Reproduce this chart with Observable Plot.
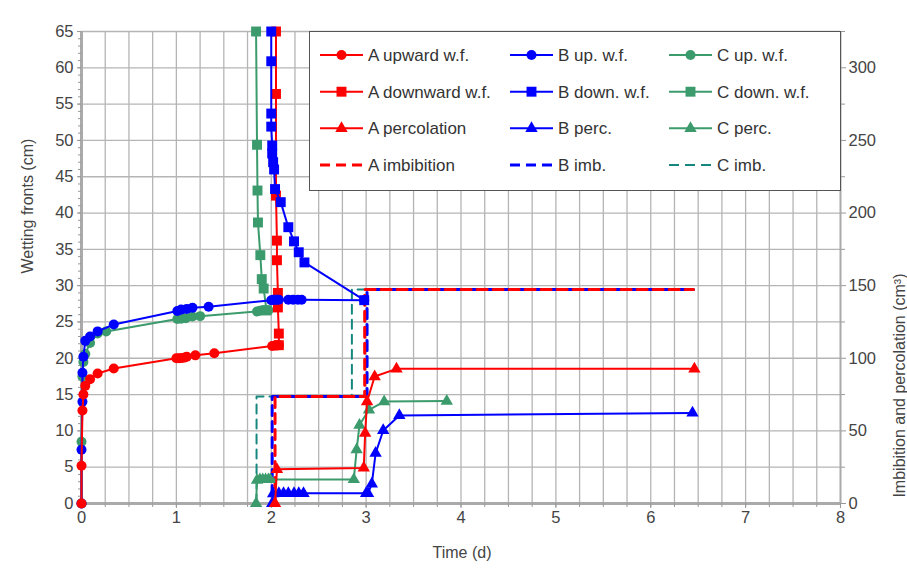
<!DOCTYPE html>
<html><head><meta charset="utf-8">
<script src="https://cdn.jsdelivr.net/npm/d3@7"></script>
<script src="https://cdn.jsdelivr.net/npm/@observablehq/plot@0.6"></script>
<style>
body{margin:0;background:#fff;font-family:"Liberation Sans",Arial,sans-serif;}
#wrap{position:relative;width:907px;height:571px;overflow:hidden;background:#fff;}
#frameline{position:absolute;left:8px;top:5px;width:1000px;height:1000px;border:1px solid #ececec;}
#legend{position:absolute;left:309px;top:31px;width:530px;height:158px;background:#fff;border:1px solid #555;}
#legend svg{display:block;}
</style></head>
<body>
<div id="wrap"><div id="frameline"></div></div>
<script>
// ---- ticks ----
const timeTicks = [0,1,2,3,4,5,6,7,8];
const wfTicks = [0,5,10,15,20,25,30,35,40,45,50,55,60,65];
const volTicks = [0,50,100,150,200,250,300];
const volMinorTicks = [25,75,125,175,225,275,325];
const wfMax = 65, volMax = 325;

// ---- wetting fronts (time d, depth cm) ----
const A_up = [[0,0],[0,5.2],[0.01,12.8],[0.02,15.0],[0.04,16.2],[0.09,17.1],[0.17,17.9],[0.34,18.6],[1.00,20.0],[1.03,20.0],[1.06,20.05],[1.09,20.1],[1.11,20.2],[1.20,20.4],[1.40,20.7],[2.01,21.7],[2.04,21.75],[2.06,21.75],[2.08,21.8]];
const A_down = [[2.08,21.8],[2.08,23.4],[2.07,27.0],[2.07,29.0],[2.06,33.5],[2.06,36.2],[2.05,42.4],[2.05,56.4],[2.05,65]];
const B_up = [[0,0],[0,7.4],[0.01,14.0],[0.01,18.0],[0.02,20.2],[0.04,22.4],[0.09,23.0],[0.17,23.7],[0.34,24.65],[1.01,26.5],[1.05,26.7],[1.11,26.8],[1.17,26.95],[1.34,27.1],[2.0,28.0],[2.02,28.05],[2.04,28.05],[2.06,28.05],[2.08,28.05],[2.18,28.05],[2.23,28.05],[2.28,28.05],[2.32,28.05],[2.98,28.0]];
const B_down = [[2.98,28.0],[2.35,33.2],[2.29,34.6],[2.24,36.1],[2.18,38.05],[2.10,41.5],[2.04,43.3],[2.03,46.0],[2.02,47.0],[2.01,48.2],[2.01,49.3],[2.0,51.9],[2.0,53.7],[2.0,60.9],[2.0,65]];
const C_up = [[0,0],[0,8.5],[0.01,17.5],[0.02,19.5],[0.04,20.6],[0.09,22.1],[0.17,23.4],[0.26,23.7],[1.01,25.4],[1.05,25.45],[1.10,25.5],[1.17,25.75],[1.25,25.8],[1.85,26.45],[1.88,26.55],[1.91,26.6],[1.94,26.6],[1.97,26.6]];
const C_down = [[1.95,26.6],[1.92,29.6],[1.90,30.9],[1.885,34.2],[1.86,38.7],[1.855,43.1],[1.85,49.4],[1.84,65]];

// ---- volumes (time d, cm3) ----
const A_perc = [[2.04,0],[2.06,23.5],[2.975,24.5],[2.99,48.5],[3.01,70.2],[3.09,87.4],[3.32,92.7],[6.46,92.7]];
const B_perc = [[2.01,0],[2.02,6.8],[2.08,7],[2.13,7],[2.18,7],[2.24,7],[2.29,7],[2.34,7],[3.0,7],[3.02,7],[3.06,13.5],[3.10,34.6],[3.18,50.3],[3.35,60.6],[6.44,62.3]];
const C_perc = [[1.84,0],[1.85,16],[1.88,16.5],[1.91,16.5],[1.94,16.5],[1.97,16.5],[1.99,16.5],[2.87,16.5],[2.90,37],[2.93,54],[3.03,64.5],[3.19,70.2],[3.85,70.5]];
const A_imb = [[2.04,0],[2.04,73.7],[2.985,73.7],[2.985,147.3],[6.45,147.3]];
const B_imb = [[2.01,0],[2.01,73.7],[3.01,73.7],[3.01,147.3],[6.45,147.3]];
const C_imb = [[1.845,0],[1.845,73.7],[2.85,73.7],[2.85,147.3],[3.85,147.3]];

const RED = "#ff0000", BLUE = "#0000ff", GREEN = "#3c9b6c", TEAL = "#16877f";
const ratio = volMax / wfMax;

const series = [
  {name:"A upward w.f.", data:A_up, color:RED, symbol:"circle", vol:false},
  {name:"B up. w.f.", data:B_up, color:BLUE, symbol:"circle", vol:false},
  {name:"C up. w.f.", data:C_up, color:GREEN, symbol:"circle", vol:false},
  {name:"A downward w.f.", data:A_down, color:RED, symbol:"square", vol:false},
  {name:"B down. w.f.", data:B_down, color:BLUE, symbol:"square", vol:false},
  {name:"C down. w.f.", data:C_down, color:GREEN, symbol:"square", vol:false},
  {name:"A percolation", data:A_perc, color:RED, symbol:"triangle", vol:true},
  {name:"B perc.", data:B_perc, color:BLUE, symbol:"triangle", vol:true},
  {name:"C perc.", data:C_perc, color:GREEN, symbol:"triangle", vol:true},
  {name:"A imbibition", data:A_imb, color:RED, symbol:null, vol:true, dash:"10,6", width:3},
  {name:"B imb.", data:B_imb, color:BLUE, symbol:null, vol:true, dash:"10,6", width:3, offset:8},
  {name:"C imb.", data:C_imb, color:TEAL, symbol:null, vol:true, dash:"9,6", width:2},
];
const byName = Object.fromEntries(series.map(s => [s.name, s]));
const drawOrder = ["C imb.","B imb.","A imbibition","C perc.","B perc.","A percolation","C down. w.f.","C up. w.f.","A downward w.f.","B up. w.f.","B down. w.f.","A upward w.f."];
const rOf = {circle:5, square:5.6, triangle:4.6};

const dataMarks = [];
for (const n of drawOrder) {
  const s = byName[n];
  const yAcc = s.vol ? (d => d[1] / ratio) : (d => d[1]);
  dataMarks.push(Plot.line(s.data, {x: d => d[0], y: yAcc, stroke: s.color, strokeWidth: s.width || 2,
    strokeDasharray: s.dash, strokeDashoffset: s.offset || 0, curve: "linear"}));
  if (s.symbol) dataMarks.push(Plot.dot(s.data, {x: d => d[0], y: yAcc, fill: s.color, stroke: "none", symbol: s.symbol, r: rOf[s.symbol]}));
}

const minorX = d3.range(0, 8.001, 0.25);
const minorY = d3.range(0, 65.001, 1);
const gridXv = d3.range(0.25, 7.9, 0.25);
const gridYv = d3.range(5, 65.001, 5);
const FS = 16.5;

const chart = Plot.plot({
  width: 907, height: 571,
  marginLeft: 81, marginRight: 67, marginTop: 31, marginBottom: 68,
  x: {domain: [0, 8]},
  y: {domain: [0, wfMax]},
  style: {fontSize: "16px", fontFamily: "Liberation Sans, Arial, sans-serif", background: "white", color: "#444", overflow: "visible"},
  marks: [
    Plot.gridX(gridXv, {stroke: "#b5b5b5", strokeOpacity: 1, strokeWidth: 1.3}),
    Plot.gridY(gridYv, {stroke: "#b5b5b5", strokeOpacity: 1, strokeWidth: 1.3}),
    Plot.ruleX([8], {stroke: "#aaa", strokeWidth: 2}),
    Plot.ruleX([0], {stroke: "#aaa", strokeWidth: 3}),
    Plot.ruleY([0], {stroke: "#aaa", strokeWidth: 3}),
    Plot.axisX(minorX, {tickSize: 4, stroke: "#999", tickFormat: () => "", label: null}),
    Plot.axisX(timeTicks, {tickSize: 5, tickPadding: 3, stroke: "#999", fill: "#444", fontSize: FS, label: null, tickFormat: d => d}),
    Plot.axisY(minorY, {anchor: "left", tickSize: 3, stroke: "#999", tickFormat: () => "", label: null}),
    Plot.axisY(wfTicks, {anchor: "left", tickSize: 4, tickPadding: 4, stroke: "#999", fill: "#444", fontSize: FS, label: null, tickFormat: d => d}),
    Plot.axisY(volMinorTicks.map(v => v / ratio), {anchor: "right", tickSize: 4, stroke: "#999", tickFormat: () => "", label: null}),
    Plot.axisY(volTicks.map(v => v / ratio), {anchor: "right", tickSize: 5, tickPadding: 3, stroke: "#999", fill: "#444", fontSize: FS, label: null, tickFormat: d => Math.round(d * ratio)}),
    ...dataMarks,
    Plot.text(["Wetting fronts (cm)"], {frameAnchor: "left", dx: -54, dy: 6, rotate: -90, fill: "#444", fontSize: 16}),
    Plot.text(["Time (d)"], {frameAnchor: "bottom", dy: 54, dx: 1, fill: "#444", fontSize: 16}),
    Plot.text(["Imbibition and percolation (cm³)"], {frameAnchor: "right", dx: 59, dy: 6, rotate: -90, fill: "#444", fontSize: 16}),
  ]
});
chart.style.position = "absolute";
chart.style.left = "0px";
chart.style.top = "0px";
const wrap = document.getElementById("wrap");
wrap.appendChild(chart);

// ---- legend ----
const leg = document.createElement("div");
leg.id = "legend";
wrap.appendChild(leg);
const legOrder = ["A upward w.f.","B up. w.f.","C up. w.f.","A downward w.f.","B down. w.f.","C down. w.f.","A percolation","B perc.","C perc.","A imbibition","B imb.","C imb."];
const colX = [10, 200, 359];
const rowY = [23, 59.7, 96.3, 133];
const svg = d3.select(leg).append("svg").attr("width", 530).attr("height", 158);
const symMap = {circle: d3.symbolCircle, square: d3.symbolSquare, triangle: d3.symbolTriangle};
legOrder.forEach((n, i) => {
  const s = byName[n];
  const x0 = colX[i % 3], y0 = rowY[Math.floor(i / 3)];
  const g = svg.append("g").attr("transform", `translate(${x0},${y0})`);
  g.append("line").attr("x1", 0).attr("x2", 43).attr("y1", 0).attr("y2", 0)
    .attr("stroke", s.color).attr("stroke-width", s.width || 2)
    .attr("stroke-dasharray", s.dash ? "10,6" : null);
  if (s.symbol) {
    const r = rOf[s.symbol];
    g.append("path").attr("transform", "translate(21.5,0)")
      .attr("d", d3.symbol(symMap[s.symbol], Math.PI * r * r)()).attr("fill", s.color);
  }
  g.append("text").attr("x", 48).attr("y", 0).attr("dy", "0.35em")
    .attr("fill", "#333").style("font-size", "17px")
    .style("font-family", "Liberation Sans, Arial, sans-serif").text(n);
});
</script>
</body></html>
